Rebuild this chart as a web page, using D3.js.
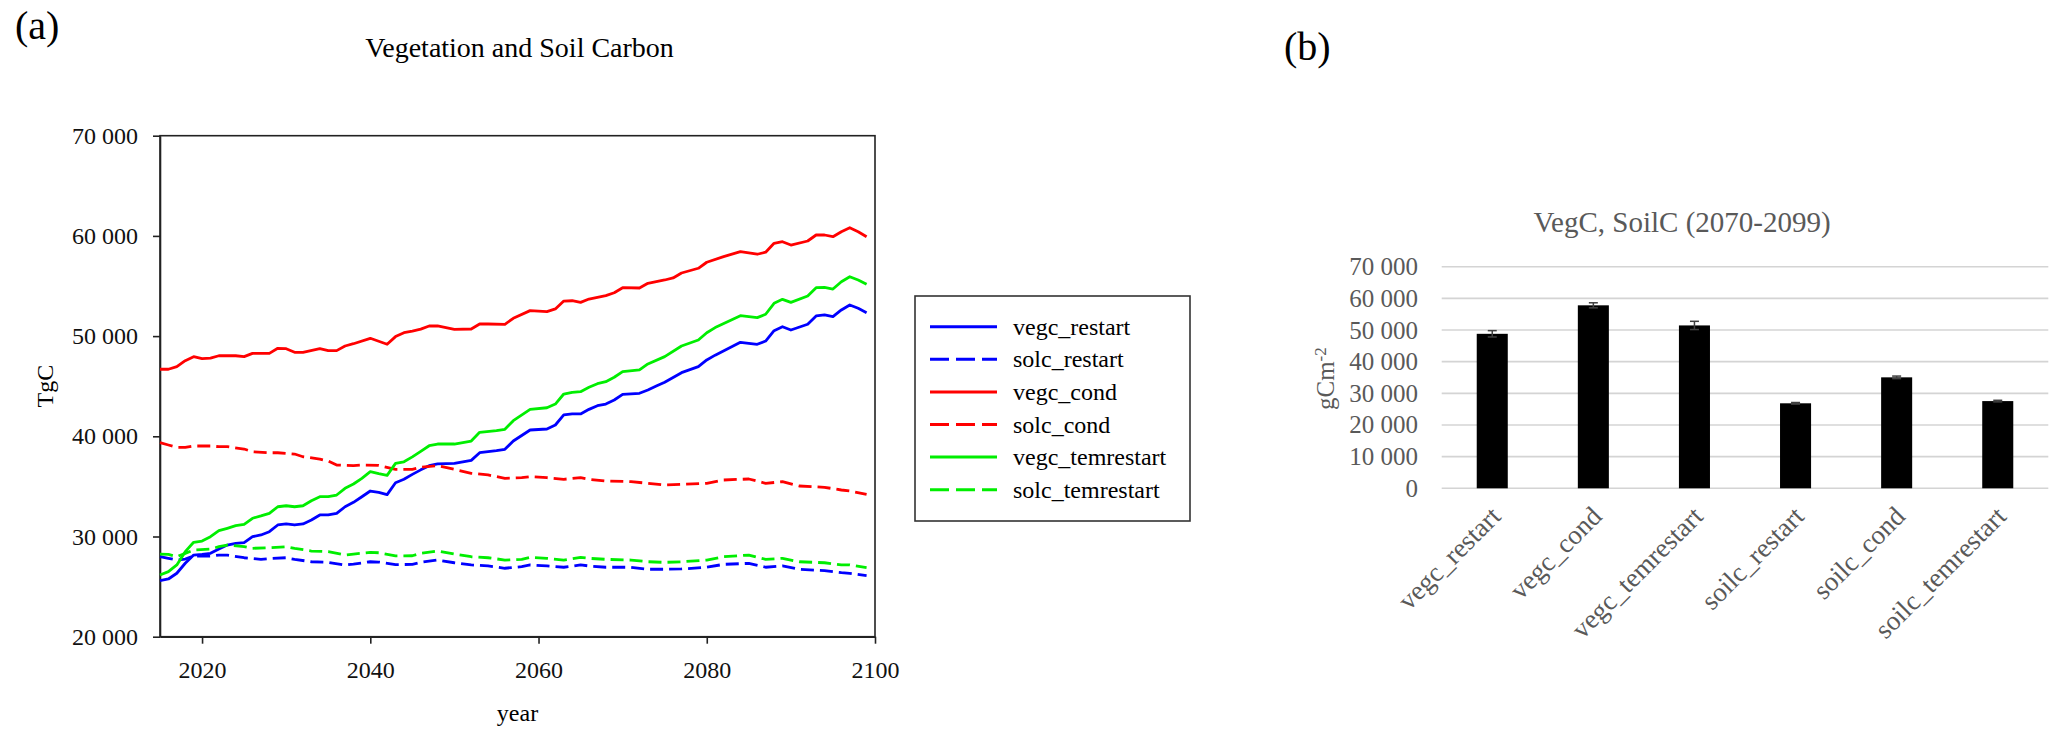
<!DOCTYPE html>
<html>
<head>
<meta charset="utf-8">
<script src="https://cdn.jsdelivr.net/npm/d3@7/dist/d3.min.js"></script>
<style>
  body { margin: 0; background: #fff; }
  svg text { font-family: "Times New Roman", "Liberation Serif", serif; }
</style>
</head>
<body>
<svg id="fig" width="2067" height="741"></svg>
<script>
// ---- data ----
var yearTicks = [2020, 2040, 2060, 2080, 2100];
var carbonTicks = [20000, 30000, 40000, 50000, 60000, 70000];

var vegcRestart = [[2015,25590],[2016,25760],[2017,26330],[2018,27330],[2019,28150],[2020,28220],[2021,28320],[2022,28750],[2023,29150],[2024,29320],[2025,29380],[2026,29980],[2027,30150],[2028,30480],[2029,31150],[2030,31250],[2031,31150],[2032,31250],[2033,31650],[2034,32150],[2035,32150],[2036,32310],[2037,32970],[2038,33410],[2039,33970],[2040,34540],[2041,34410],[2042,34180],[2043,35370],[2044,35710],[2045,36200],[2046,36650],[2047,37070],[2048,37240],[2050,37300],[2052,37600],[2053,38360],[2055,38560],[2056,38700],[2057,39530],[2059,40630],[2061,40730],[2062,41130],[2063,42130],[2064,42230],[2065,42230],[2066,42690],[2067,43050],[2068,43220],[2069,43620],[2070,44190],[2072,44290],[2073,44620],[2074,45020],[2075,45400],[2077,46350],[2079,46950],[2080,47620],[2081,48100],[2084,49380],[2086,49180],[2087,49510],[2088,50540],[2089,50940],[2090,50610],[2092,51180],[2093,52010],[2094,52110],[2095,51940],[2096,52610],[2097,53110],[2098,52780],[2099,52340]];

var vegcCond = [[2015,46690],[2016,46690],[2017,46950],[2018,47550],[2019,47950],[2020,47750],[2021,47800],[2022,48040],[2024,48040],[2025,47950],[2026,48280],[2028,48280],[2029,48780],[2030,48740],[2031,48380],[2032,48380],[2034,48750],[2035,48550],[2036,48550],[2037,49010],[2038,49240],[2040,49780],[2042,49190],[2043,49950],[2044,50340],[2045,50500],[2046,50700],[2047,51010],[2048,51010],[2050,50680],[2052,50710],[2053,51210],[2054,51210],[2056,51180],[2057,51780],[2059,52540],[2061,52440],[2062,52710],[2063,53500],[2064,53530],[2065,53370],[2066,53700],[2068,54040],[2069,54330],[2070,54830],[2072,54800],[2073,55270],[2075,55600],[2076,55800],[2077,56300],[2079,56770],[2080,57370],[2082,57930],[2084,58430],[2086,58170],[2087,58370],[2088,59260],[2089,59420],[2090,59090],[2092,59490],[2093,60090],[2094,60090],[2095,59920],[2096,60420],[2097,60820],[2098,60420],[2099,59920]];

var vegcTemrestart = [[2015,26160],[2016,26490],[2017,27160],[2018,28490],[2019,29420],[2020,29550],[2021,29980],[2022,30580],[2023,30820],[2024,31080],[2025,31220],[2026,31820],[2027,32050],[2028,32310],[2029,32970],[2030,33070],[2031,32970],[2032,33070],[2033,33570],[2034,33970],[2035,33970],[2036,34140],[2037,34810],[2038,35240],[2039,35810],[2040,36470],[2041,36270],[2042,36100],[2043,37300],[2044,37460],[2045,37950],[2046,38500],[2047,39060],[2048,39230],[2050,39230],[2052,39530],[2053,40400],[2055,40560],[2056,40700],[2057,41560],[2059,42690],[2061,42850],[2062,43220],[2063,44220],[2064,44390],[2065,44450],[2066,44890],[2067,45250],[2068,45450],[2069,45890],[2070,46450],[2072,46620],[2073,47220],[2075,47950],[2077,49010],[2079,49610],[2080,50340],[2081,50850],[2084,52040],[2086,51840],[2087,52180],[2088,53270],[2089,53670],[2090,53370],[2092,54000],[2093,54830],[2094,54860],[2095,54700],[2096,55430],[2097,55930],[2098,55600],[2099,55170]];

var solcRestart = [[2015,27980],[2016,27820],[2017,27650],[2018,27750],[2019,28050],[2021,28050],[2022,28150],[2023,28150],[2025,27880],[2027,27720],[2028,27800],[2030,27880],[2031,27720],[2033,27480],[2035,27420],[2037,27160],[2038,27250],[2040,27480],[2041,27450],[2043,27190],[2045,27220],[2046,27420],[2048,27650],[2050,27380],[2052,27160],[2054,27060],[2056,26830],[2058,26990],[2059,27160],[2061,27060],[2063,26930],[2065,27160],[2066,27060],[2068,26930],[2071,26930],[2073,26730],[2075,26730],[2077,26760],[2080,26930],[2082,27220],[2085,27320],[2087,26930],[2089,27060],[2091,26730],[2094,26590],[2096,26390],[2097,26330],[2099,26090]];

var solcCond = [[2015,39360],[2016,39130],[2017,38900],[2018,38900],[2019,39030],[2021,39030],[2022,38960],[2023,38960],[2025,38730],[2026,38460],[2028,38360],[2029,38360],[2031,38230],[2032,37960],[2034,37730],[2035,37530],[2036,37130],[2038,37070],[2039,37130],[2041,37100],[2043,36700],[2045,36700],[2046,36900],[2048,37070],[2050,36700],[2052,36310],[2054,36140],[2056,35810],[2058,35870],[2059,35970],[2061,35870],[2063,35710],[2065,35870],[2066,35710],[2068,35540],[2071,35470],[2073,35310],[2075,35140],[2077,35210],[2080,35310],[2082,35640],[2085,35740],[2087,35310],[2089,35470],[2091,35040],[2094,34910],[2096,34640],[2097,34540],[2099,34210]];

var solcTemrestart = [[2015,28250],[2016,28220],[2017,27980],[2018,28320],[2019,28650],[2021,28750],[2022,28980],[2023,29150],[2025,28980],[2026,28820],[2028,28880],[2030,28980],[2031,28820],[2033,28550],[2035,28490],[2037,28150],[2038,28250],[2040,28420],[2041,28380],[2043,28070],[2045,28080],[2046,28320],[2048,28550],[2050,28250],[2052,27980],[2054,27880],[2056,27650],[2058,27720],[2059,27920],[2061,27820],[2063,27650],[2065,27920],[2066,27820],[2068,27720],[2071,27650],[2073,27480],[2075,27420],[2077,27480],[2080,27650],[2082,27980],[2085,28150],[2087,27720],[2089,27820],[2091,27480],[2094,27380],[2096,27160],[2097,27160],[2099,26890]];

var seriesNames = ['vegc_restart', 'solc_restart', 'vegc_cond', 'solc_cond', 'vegc_temrestart', 'solc_temrestart'];
var seriesData = [vegcRestart, solcRestart, vegcCond, solcCond, vegcTemrestart, solcTemrestart];
var seriesColors = ['#0000ff', '#0000ff', '#ff0000', '#ff0000', '#00ee00', '#00ee00'];
var seriesDashed = [false, true, false, true, false, true];

var barLabels = ['vegc_restart', 'vegc_cond', 'vegc_temrestart', 'soilc_restart', 'soilc_cond', 'soilc_temrestart'];
var barMeans = [48800, 57800, 51450, 26850, 35050, 27550];
var barErrors = [1000, 800, 1300, 250, 400, 250];
var barTicks = [0, 10000, 20000, 30000, 40000, 50000, 60000, 70000];

// ---- shared ----
var svg = d3.select('#fig');
var spaceFmt = d3.formatLocale({decimal: '.', thousands: '\u2009', grouping: [3], currency: ['', '']}).format(',');
var fmtNum = function(d) { return spaceFmt(d).replace('\u2009', ' '); };

svg.append('text').attr('x', 15).attr('y', 39).style('font-size', '40px').text('(a)');
svg.append('text').attr('x', 1284).attr('y', 60).style('font-size', '40px').text('(b)');

// ---- panel (a): line chart ----
var pa = {l: 160, r: 875, t: 135.7, b: 636.7};
var xScale = d3.scaleLinear().domain([2015, 2100]).range([pa.l, pa.r]);
var yScale = d3.scaleLinear().domain([20000, 70000]).range([pa.b, pa.t]);

var chartA = svg.append('g');

chartA.append('text')
  .attr('x', (pa.l + pa.r) / 2 + 2).attr('y', 57)
  .attr('text-anchor', 'middle')
  .style('font-size', '28px')
  .text('Vegetation and Soil Carbon');

// frame
chartA.append('rect')
  .attr('x', pa.l).attr('y', pa.t)
  .attr('width', pa.r - pa.l).attr('height', pa.b - pa.t)
  .attr('fill', 'none').attr('stroke', '#222').attr('stroke-width', 1.6);

var xAxis = chartA.append('g')
  .attr('transform', 'translate(0,' + pa.b + ')')
  .call(d3.axisBottom(xScale).tickValues(yearTicks).tickFormat(d3.format('d')).tickSize(7).tickPadding(17).tickSizeOuter(0));
var yAxis = chartA.append('g')
  .attr('transform', 'translate(' + pa.l + ',0)')
  .call(d3.axisLeft(yScale).tickValues(carbonTicks).tickFormat(fmtNum).tickSize(7).tickPadding(15).tickSizeOuter(0));

[xAxis, yAxis].forEach(function(ax) {
  ax.select('.domain').attr('stroke', '#222').attr('stroke-width', 1.6);
  ax.selectAll('.tick line').attr('stroke', '#222').attr('stroke-width', 1.6);
  ax.selectAll('.tick text')
    .attr('fill', '#111')
    .style('font-size', '24px')
    .style('font-family', '"Times New Roman", "Liberation Serif", serif');
});

chartA.append('text')
  .attr('x', (pa.l + pa.r) / 2).attr('y', 721)
  .attr('text-anchor', 'middle')
  .style('font-size', '24px')
  .text('year');

chartA.append('text')
  .attr('transform', 'translate(53,' + ((pa.t + pa.b) / 2) + ') rotate(-90)')
  .attr('text-anchor', 'middle')
  .style('font-size', '24px')
  .text('TgC');

var line = d3.line()
  .x(function(d) { return xScale(d[0]); })
  .y(function(d) { return yScale(d[1]); });

chartA.append('g').selectAll('path')
  .data(seriesData)
  .enter()
  .append('path')
  .attr('d', line)
  .attr('fill', 'none')
  .attr('stroke', function(d, i) { return seriesColors[i]; })
  .attr('stroke-width', 2.8)
  .attr('stroke-linejoin', 'round')
  .attr('stroke-dasharray', function(d, i) { return seriesDashed[i] ? '13,6' : null; });

// legend
var leg = svg.append('g');
leg.append('rect')
  .attr('x', 915).attr('y', 296).attr('width', 275).attr('height', 225)
  .attr('fill', '#fff').attr('stroke', '#333').attr('stroke-width', 1.6);

var legItem = leg.selectAll('.item')
  .data(seriesNames)
  .enter()
  .append('g')
  .attr('class', 'item')
  .attr('transform', function(d, i) { return 'translate(0,' + (326.7 + i * 32.6) + ')'; });

legItem.append('line')
  .attr('x1', 930).attr('x2', 997).attr('y1', 0).attr('y2', 0)
  .attr('stroke', function(d, i) { return seriesColors[i]; })
  .attr('stroke-width', 3)
  .attr('stroke-dasharray', function(d, i) { return seriesDashed[i] ? '19,7' : null; });

legItem.append('text')
  .attr('x', 1013).attr('y', 8)
  .style('font-size', '24px')
  .text(function(d) { return d; });

// ---- panel (b): bar chart ----
var pb = {l: 1441.7, r: 2048.3, t: 266.7, b: 488.3};
var bx = d3.scaleBand().domain(barLabels).range([pb.l, pb.r]).paddingInner(0.693).paddingOuter(0.3465);
var by = d3.scaleLinear().domain([0, 70000]).range([pb.b, pb.t]);

var chartB = svg.append('g');

chartB.append('text')
  .attr('x', 1682).attr('y', 231.7)
  .attr('text-anchor', 'middle')
  .attr('fill', '#595959')
  .style('font-size', '29px')
  .text('VegC, SoilC (2070-2099)');

chartB.append('g').selectAll('line')
  .data(barTicks)
  .enter()
  .append('line')
  .attr('x1', pb.l).attr('x2', pb.r)
  .attr('y1', function(d) { return by(d); })
  .attr('y2', function(d) { return by(d); })
  .attr('stroke', '#d4d4d4')
  .attr('stroke-width', 1.6);

chartB.append('g').selectAll('text')
  .data(barTicks)
  .enter()
  .append('text')
  .attr('x', 1418).attr('y', function(d) { return by(d); })
  .attr('dy', '0.34em')
  .attr('text-anchor', 'end')
  .attr('fill', '#595959')
  .style('font-size', '25px')
  .text(fmtNum);

chartB.append('g').selectAll('rect')
  .data(barMeans)
  .enter()
  .append('rect')
  .attr('x', function(d, i) { return bx(barLabels[i]); })
  .attr('y', function(d) { return by(d); })
  .attr('width', bx.bandwidth())
  .attr('height', function(d) { return by(0) - by(d); })
  .attr('fill', '#000');

var err = chartB.append('g').selectAll('g')
  .data(barMeans)
  .enter()
  .append('g')
  .attr('stroke', '#404040')
  .attr('stroke-width', 1.5);

err.append('line')
  .attr('x1', function(d, i) { return bx(barLabels[i]) + bx.bandwidth() / 2; })
  .attr('x2', function(d, i) { return bx(barLabels[i]) + bx.bandwidth() / 2; })
  .attr('y1', function(d, i) { return by(d - barErrors[i]); })
  .attr('y2', function(d, i) { return by(d + barErrors[i]); });
[-1, 1].forEach(function(s) {
  err.append('line')
    .attr('x1', function(d, i) { return bx(barLabels[i]) + bx.bandwidth() / 2 - 4.5; })
    .attr('x2', function(d, i) { return bx(barLabels[i]) + bx.bandwidth() / 2 + 4.5; })
    .attr('y1', function(d, i) { return by(d + s * barErrors[i]); })
    .attr('y2', function(d, i) { return by(d + s * barErrors[i]); });
});

chartB.append('g').selectAll('text')
  .data(barLabels)
  .enter()
  .append('text')
  .attr('transform', function(d) {
    return 'translate(' + (bx(d) + bx.bandwidth() / 2 + 10) + ',518) rotate(-45)';
  })
  .attr('text-anchor', 'end')
  .attr('fill', '#595959')
  .style('font-size', '27px')
  .text(function(d) { return d; });

var yl = chartB.append('text')
  .attr('transform', 'translate(1334,410) rotate(-90)')
  .attr('text-anchor', 'start')
  .attr('fill', '#595959')
  .style('font-size', '25px');
yl.append('tspan').text('gCm');
yl.append('tspan').attr('dy', '-0.45em').style('font-size', '17px').text('-2');
</script>
</body>
</html>
